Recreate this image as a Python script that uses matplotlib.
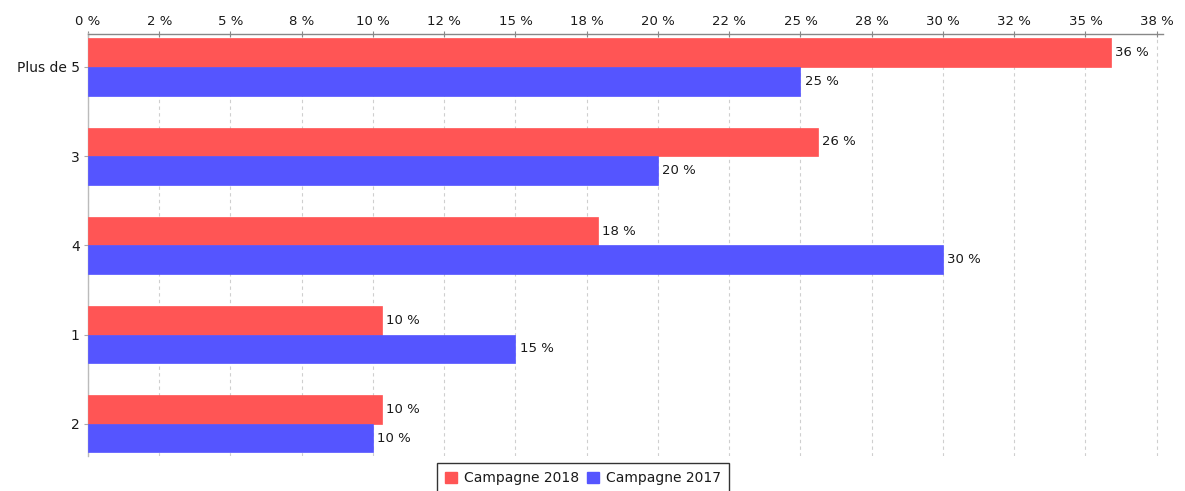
import numpy as np
import matplotlib
matplotlib.use("Agg")
import matplotlib.pyplot as plt
from matplotlib.patches import Patch

categories = ["Plus de 5", "3", "4", "1", "2"]
series_names = ["Campagne 2018", "Campagne 2017"]
values_2018 = [35.9, 25.6, 17.9, 10.3, 10.3]
values_2017 = [25.0, 20.0, 30.0, 15.0, 10.0]
x_ticks = list(np.arange(0, 37.6, 2.5))

colors = ["#FF5555", "#5555FF"]
W, H = 1185, 491
fig = plt.figure(figsize=(W / 100, H / 100), dpi=100)
ax = fig.add_axes([88 / W, 1 - 456 / H, (1163 - 88) / W, (456 - 33.5) / H])

y = np.arange(len(categories))
bh = 0.32
txt_color = "#1a1a1a"
fs = 9.5
for vals, off, col in [(values_2018, -bh / 2, colors[0]), (values_2017, bh / 2, colors[1])]:
    ax.barh(y + off, vals, height=bh, color=col, edgecolor=col, linewidth=0.5, zorder=3)
    for yi, v in zip(y, vals):
        ax.annotate(f"{round(v)} %", (v, yi + off), xytext=(3, 0), textcoords="offset points",
                    va="center", ha="left", fontsize=fs, color=txt_color, zorder=4)

ax.set_xlim(0, 37.72)
ax.set_ylim(4.36, -0.375)
ax.set_xticks(x_ticks)
ax.set_xticklabels([f"{round(v)} %" for v in x_ticks])
ax.xaxis.tick_top()
ax.set_yticks(y)
ax.set_yticklabels(categories)
ax.tick_params(axis="x", direction="inout", length=4, width=0.8, color="#888888",
               labelsize=fs, labelcolor=txt_color, pad=2)
ax.tick_params(axis="y", direction="out", length=3, width=0.8, color="#AAAAAA",
               labelsize=10, labelcolor=txt_color, pad=3)
for s in ["right", "bottom"]:
    ax.spines[s].set_visible(False)
ax.spines["top"].set_color("#888888")
ax.spines["top"].set_linewidth(1)
ax.spines["left"].set_color("#BBBBBB")
ax.spines["left"].set_linewidth(1)
ax.grid(axis="x", color="#CFCFCF", linestyle=(0, (3, 3)), linewidth=0.8, zorder=0)

handles = [Patch(facecolor=c, edgecolor=c) for c in colors]
leg = fig.legend(handles, series_names, loc="upper center",
                 bbox_to_anchor=(583 / W, 1 - 463 / H), ncol=2, fontsize=10,
                 frameon=True, fancybox=False, framealpha=1, edgecolor="#333333",
                 handlelength=0.85, handleheight=0.85, handletextpad=0.5,
                 columnspacing=0.6, borderpad=0.6, borderaxespad=0)
for t in leg.get_texts():
    t.set_color(txt_color)
leg.get_frame().set_linewidth(1)

fig.savefig("out.png", dpi=100)
